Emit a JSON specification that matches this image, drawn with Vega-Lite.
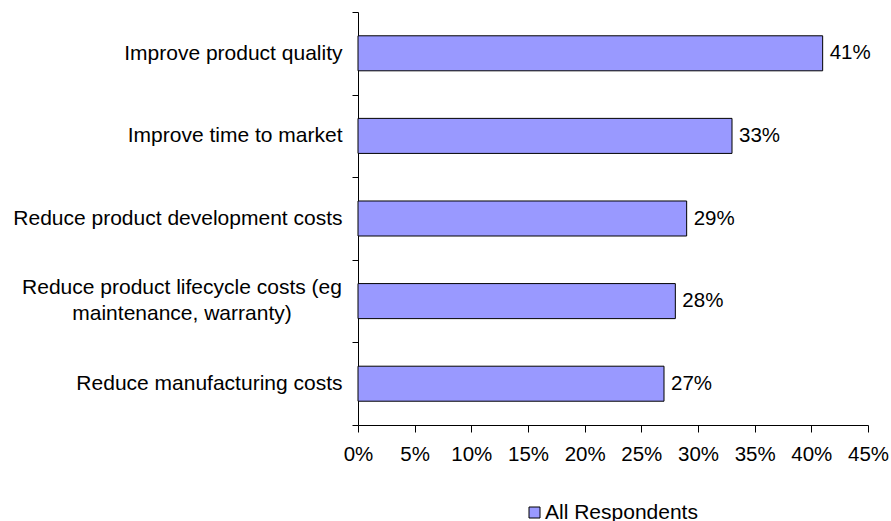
{
  "$schema": "https://vega.github.io/schema/vega-lite/v6.json",
  "width": 510,
  "height": 413,
  "autosize": {"type": "none"},
  "padding": {"left": 358, "top": 12, "right": 23, "bottom": 96},
  "background": "white",
  "config": {
    "view": {"stroke": null},
    "font": "Liberation Sans",
    "axis": {"labelFont": "Liberation Sans", "labelColor": "#000000", "domainColor": "#000000", "tickColor": "#000000", "grid": false, "title": null}
  },
  "data": {
    "values": [
      {"label": "Improve product quality", "value": 0.41, "series": "All Respondents"},
      {"label": "Improve time to market", "value": 0.33, "series": "All Respondents"},
      {"label": "Reduce product development costs", "value": 0.29, "series": "All Respondents"},
      {"label": "Reduce product lifecycle costs (eg|maintenance, warranty)", "value": 0.28, "series": "All Respondents"},
      {"label": "Reduce manufacturing costs", "value": 0.27, "series": "All Respondents"}
    ]
  },
  "encoding": {
    "y": {
      "field": "label",
      "type": "nominal",
      "sort": null,
      "scale": {"paddingInner": 0, "paddingOuter": 0},
      "axis": {
        "tickBand": "extent",
        "tickSize": 6,
        "labelPadding": 10,
        "labelFontSize": 21,
        "labelLimit": 400,
        "labelExpr": "indexof(datum.label, '|') >= 0 ? '' : datum.label"
      }
    },
    "x": {
      "field": "value",
      "type": "quantitative",
      "scale": {"domain": [0, 0.45], "nice": false, "zero": true},
      "axis": {
        "values": [0, 0.05, 0.1, 0.15, 0.2, 0.25, 0.3, 0.35, 0.4, 0.45],
        "format": ".0%",
        "tickSize": 7,
        "labelPadding": 12,
        "labelFontSize": 20.5,
        "labelFlush": false,
        "labelOverlap": false
      }
    }
  },
  "layer": [
    {
      "mark": {"type": "bar", "stroke": "#000000", "strokeWidth": 1, "height": {"band": 0.424}},
      "encoding": {
        "color": {
          "field": "series",
          "type": "nominal",
          "scale": {"range": ["#9999ff"]},
          "legend": {
            "title": null,
            "orient": "none",
            "legendX": 166,
            "legendY": 490,
            "padding": 0,
            "symbolType": "square",
            "symbolSize": 121,
            "symbolStrokeColor": "#000000",
            "symbolStrokeWidth": 1,
            "symbolOpacity": 1,
            "labelFontSize": 21,
            "labelColor": "#000000",
            "labelOffset": 0,
            "labelFont": "Liberation Sans"
          }
        }
      }
    },
    {
      "mark": {"type": "text", "align": "left", "baseline": "middle", "dx": 7, "fontSize": 20.5, "color": "#000000", "font": "Liberation Sans"},
      "encoding": {
        "text": {"field": "value", "type": "quantitative", "format": ".0%"}
      }
    },
    {
      "transform": [{"filter": "indexof(datum.label, '|') >= 0"}],
      "mark": {"type": "text", "align": "center", "baseline": "middle", "lineBreak": "|", "lineHeight": 26, "dx": -176, "dy": -13, "fontSize": 21, "color": "#000000", "font": "Liberation Sans"},
      "encoding": {
        "x": {"datum": 0},
        "text": {"field": "label", "type": "nominal"}
      }
    }
  ]
}
